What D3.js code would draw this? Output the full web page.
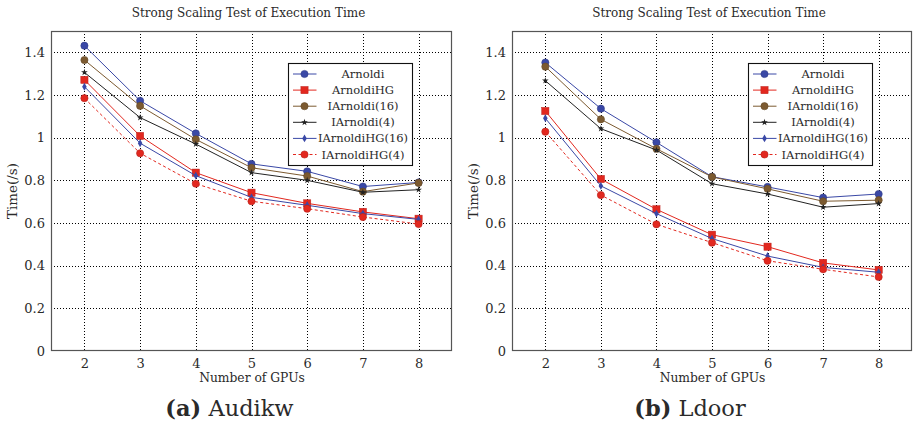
<!DOCTYPE html>
<html>
<head>
<meta charset="utf-8">
<script src="https://cdn.jsdelivr.net/npm/d3@7"></script>
<style>
  html, body { margin: 0; padding: 0; background: #fff; }
  svg { display: block; }
  text { font-family: "DejaVu Serif", "Liberation Serif", serif; fill: #2a2a2a; }
</style>
</head>
<body>
<svg id="chart" width="921" height="429"></svg>
<script>
// GPU counts on the x axis
const gpus = [2, 3, 4, 5, 6, 7, 8];
const yTicks = [0, 0.2, 0.4, 0.6, 0.8, 1.0, 1.2, 1.4];
const seriesNames = ["Arnoldi", "ArnoldiHG", "IArnoldi(16)", "IArnoldi(4)", "IArnoldiHG(16)", "IArnoldiHG(4)"];

// Execution time (s), Audikw matrix
const audikwArnoldi     = [1.431, 1.173, 1.020, 0.877, 0.842, 0.771, 0.790];
const audikwArnoldiHG   = [1.271, 1.008, 0.836, 0.742, 0.692, 0.652, 0.620];
const audikwIArnoldi16  = [1.364, 1.149, 0.992, 0.859, 0.820, 0.747, 0.788];
const audikwIArnoldi4   = [1.306, 1.094, 0.970, 0.836, 0.800, 0.744, 0.756];
const audikwIArnoldiHG16 = [1.239, 0.974, 0.822, 0.720, 0.683, 0.644, 0.617];
const audikwIArnoldiHG4 = [1.185, 0.927, 0.784, 0.702, 0.667, 0.628, 0.595];

// Execution time (s), Ldoor matrix
const ldoorArnoldi      = [1.352, 1.136, 0.978, 0.817, 0.769, 0.719, 0.736];
const ldoorArnoldiHG    = [1.125, 0.806, 0.664, 0.545, 0.489, 0.413, 0.380];
const ldoorIArnoldi16   = [1.333, 1.086, 0.948, 0.816, 0.760, 0.702, 0.707];
const ldoorIArnoldi4    = [1.267, 1.042, 0.942, 0.784, 0.736, 0.674, 0.691];
const ldoorIArnoldiHG16 = [1.091, 0.774, 0.644, 0.527, 0.445, 0.392, 0.369];
const ldoorIArnoldiHG4  = [1.028, 0.731, 0.594, 0.508, 0.423, 0.383, 0.347];

const BLUE = "#3a48a6", RED = "#e2281f", BROWN = "#7c5a30", BLACK = "#222";

// Visual style for each series (same order as seriesNames)
const styles = [
  { color: BLUE,  marker: "circle",  dash: null },
  { color: RED,   marker: "square",  dash: null },
  { color: BROWN, marker: "circle",  dash: null },
  { color: BLACK, marker: "star",    dash: null },
  { color: BLUE,  marker: "diamond", dash: null },
  { color: RED,   marker: "circle",  dash: "3,2.5" }
];

const panels = [
  { left: 51,  right: 452, caption: ["(a)", "Audikw"],
    series: [audikwArnoldi, audikwArnoldiHG, audikwIArnoldi16, audikwIArnoldi4, audikwIArnoldiHG16, audikwIArnoldiHG4] },
  { left: 512, right: 912, caption: ["(b)", "Ldoor"],
    series: [ldoorArnoldi, ldoorArnoldiHG, ldoorIArnoldi16, ldoorIArnoldi4, ldoorIArnoldiHG16, ldoorIArnoldiHG4] }
];

const TOP = 31, BOTTOM = 351;
const svg = d3.select("#chart");

function drawMarker(g, type, color, x, y) {
  if (type === "circle") {
    g.append("circle").attr("cx", x).attr("cy", y).attr("r", 3.6)
      .attr("fill", color).attr("stroke", d3.color(color).darker(0.6)).attr("stroke-width", 0.6);
  } else if (type === "square") {
    g.append("rect").attr("x", x - 3.6).attr("y", y - 3.6).attr("width", 7.2).attr("height", 7.2)
      .attr("fill", color).attr("stroke", d3.color(color).darker(0.5)).attr("stroke-width", 0.5);
  } else if (type === "star") {
    g.append("path").attr("d", d3.symbol(d3.symbolStar, 14)()).attr("transform", `translate(${x},${y})`)
      .attr("fill", color);
  } else if (type === "diamond") {
    g.append("path").attr("d", d3.symbol(d3.symbolDiamond, 18)()).attr("transform", `translate(${x},${y})`)
      .attr("fill", color);
  }
}

panels.forEach(p => {
  const x = d3.scaleLinear().domain([1.4, 8.6]).range([p.left, p.right]);
  const y = d3.scaleLinear().domain([0, 1.5]).range([BOTTOM, TOP]);
  const g = svg.append("g");

  // dotted grid
  const grid = g.append("g").attr("stroke", "#000").attr("stroke-width", 1)
    .attr("stroke-dasharray", "1,2").attr("shape-rendering", "crispEdges");
  yTicks.filter(v => v > 0).forEach(v => {
    grid.append("line").attr("x1", p.left).attr("x2", p.right)
      .attr("y1", Math.round(y(v)) + 0.5).attr("y2", Math.round(y(v)) + 0.5);
  });
  gpus.forEach(v => {
    grid.append("line").attr("y1", TOP).attr("y2", BOTTOM)
      .attr("x1", Math.round(x(v)) + 0.5).attr("x2", Math.round(x(v)) + 0.5);
  });

  // y axis tick labels
  const yAxis = d3.axisLeft(y).tickValues(yTicks).tickSize(0).tickPadding(6)
    .tickFormat(d => d3.format("~g")(+d.toFixed(1)));
  g.append("g").attr("transform", `translate(${p.left},0)`).call(yAxis)
    .call(a => a.select(".domain").remove())
    .call(a => a.selectAll("text").attr("font-size", 13).attr("fill", "#333")
      .attr("font-family", "DejaVu Serif, serif"));

  // x axis tick labels
  const xAxis = d3.axisBottom(x).tickValues(gpus).tickSize(0).tickPadding(8).tickFormat(d3.format("d"));
  g.append("g").attr("transform", `translate(0,${BOTTOM})`).call(xAxis)
    .call(a => a.select(".domain").remove())
    .call(a => a.selectAll("text").attr("font-size", 13).attr("fill", "#333")
      .attr("font-family", "DejaVu Serif, serif"));

  // frame
  g.append("rect").attr("x", p.left + 0.5).attr("y", TOP + 0.5)
    .attr("width", p.right - p.left - 1).attr("height", BOTTOM - TOP - 1)
    .attr("fill", "none").attr("stroke", "#555").attr("stroke-width", 1.2);

  // series lines and markers
  p.series.forEach((vals, i) => {
    const st = styles[i];
    const pts = gpus.map((gv, k) => [x(gv), y(vals[k])]);
    g.append("path").attr("d", d3.line()(pts)).attr("fill", "none")
      .attr("stroke", st.color).attr("stroke-width", 1)
      .attr("stroke-dasharray", st.dash);
    const mg = g.append("g");
    pts.forEach(pt => drawMarker(mg, st.marker, st.color, pt[0], pt[1]));
  });

  // legend
  const lw = 124, lh = 102;
  const lx = p.right - 39.5 - lw, ly = 63.5;
  const lg = g.append("g");
  lg.append("rect").attr("x", lx).attr("y", ly).attr("width", lw).attr("height", lh)
    .attr("fill", "#fff").attr("stroke", "#111").attr("stroke-width", 1.1);
  seriesNames.forEach((name, i) => {
    const st = styles[i];
    const ry = ly + 10.5 + i * 16.1;
    lg.append("line").attr("x1", lx + 4.5).attr("x2", lx + 28).attr("y1", ry).attr("y2", ry)
      .attr("stroke", st.color).attr("stroke-width", 1).attr("stroke-dasharray", st.dash);
    drawMarker(lg, st.marker, st.color, lx + 16, ry);
    lg.append("text").attr("x", lx + 74.5).attr("y", ry).attr("dy", "0.35em")
      .attr("text-anchor", "middle").attr("font-size", 11.5).text(name);
  });

  const cx = (p.left + p.right) / 2;
  // title
  g.append("text").attr("x", cx - 3).attr("y", 17).attr("text-anchor", "middle")
    .attr("font-size", 12).text("Strong Scaling Test of Execution Time");
  // x label
  g.append("text").attr("x", cx + 0.5).attr("y", 382).attr("text-anchor", "middle")
    .attr("font-size", 12.3).text("Number of GPUs");
  // y label
  g.append("text").attr("transform", `translate(${p.left - 34},${(TOP + BOTTOM) / 2}) rotate(-90)`)
    .attr("text-anchor", "middle").attr("font-size", 13.5).text("Time(/s)");
  // caption
  const cap = g.append("text").attr("x", cx - 22).attr("y", 416).attr("text-anchor", "middle")
    .attr("font-size", 22.5);
  cap.append("tspan").attr("font-weight", "bold").text(p.caption[0]);
  cap.append("tspan").text(" " + p.caption[1]);
});
</script>
</body>
</html>
